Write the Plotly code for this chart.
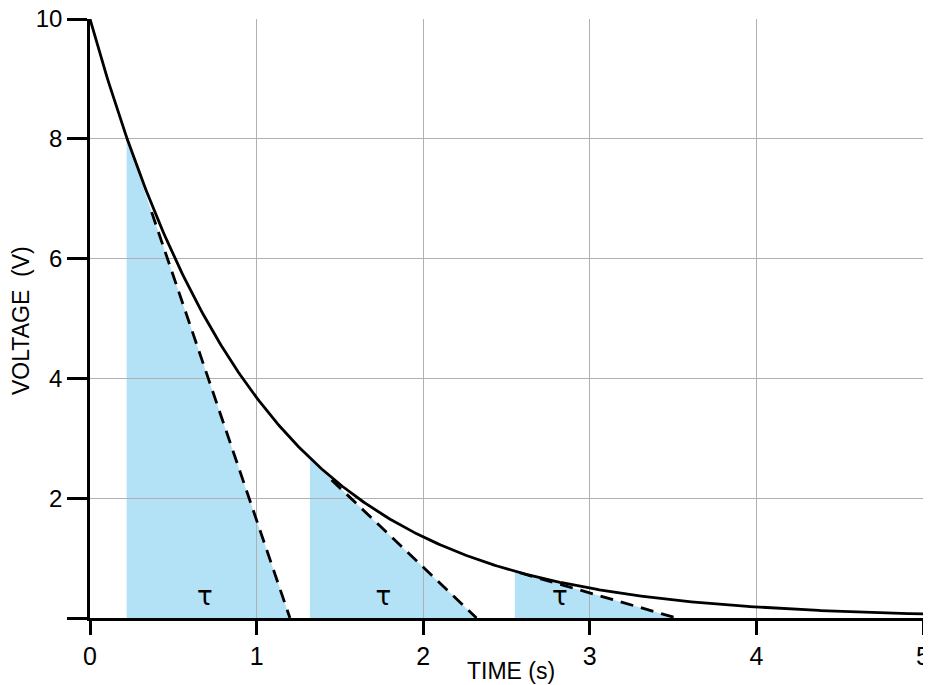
import numpy as np
import plotly.graph_objects as go

# Data
V0 = 10.0          # initial voltage (V)
tau = 1.0          # time constant (s)
t_curve = np.linspace(0, 5, 400)
v_curve = V0 * np.exp(-t_curve / tau)

# tangent triangles: start time, start voltage, intercept time
tri_t0 = [0.22, 1.32, 2.55]
tri_v0 = [8.0, 2.65, 0.78]
tri_t1 = [1.20, 2.32, 3.52]
dash_t_start = [0.37, 1.45, 2.58]   # where dashed tangent begins
tau_label_t = [0.69, 1.76, 2.82]
tau_label_v = [0.32, 0.32, 0.32]

x_ticks = [0, 1, 2, 3, 4, 5]
y_ticks = [0, 2, 4, 6, 8, 10]
y_ticktext = ["", "2", "4", "6", "8", "10"]

FONT = "Liberation Sans"
fig = go.Figure()

shapes = []
for t0, v0, t1 in zip(tri_t0, tri_v0, tri_t1):
    shapes.append(dict(type="path", xref="x", yref="y", layer="below",
                       path=f"M {t0},0 L {t0},{v0} L {t1},0 Z",
                       fillcolor="#b3e1f6", line=dict(width=0)))

# dashed tangents
for t0, v0, t1, ts in zip(tri_t0, tri_v0, tri_t1, dash_t_start):
    slope = -v0 / (t1 - t0)
    vs = v0 + slope * (ts - t0)
    fig.add_trace(go.Scatter(x=[ts, t1], y=[vs, 0], mode="lines",
                             line=dict(color="black", width=2.8, dash="13px,8px"),
                             hoverinfo="skip", showlegend=False))

fig.add_trace(go.Scatter(x=t_curve, y=v_curve, mode="lines",
                         line=dict(color="black", width=2.8),
                         showlegend=False, cliponaxis=False))

fig.add_trace(go.Scatter(x=tau_label_t, y=tau_label_v, mode="text",
                         text=["τ"] * 3, textfont=dict(size=26, color="black", family="DejaVu Sans"),
                         showlegend=False, hoverinfo="skip"))

# page has an 8px body margin: figure is placed at (8, 8)
fig.update_layout(
    width=923, height=677,
    margin=dict(l=82, r=8, t=11, b=67, autoexpand=False),
    paper_bgcolor="white", plot_bgcolor="white",
    shapes=shapes,
    font=dict(family=FONT, color="black"),
    annotations=[
        dict(text="TIME (s)", xref="paper", yref="paper", x=0.506, y=-0.088,
             xanchor="center", yanchor="middle", showarrow=False,
             font=dict(size=23, family=FONT)),
        dict(text="VOLTAGE  (V)", xref="paper", yref="paper", x=-0.082, y=0.497,
             xanchor="center", yanchor="middle", showarrow=False, textangle=-90,
             font=dict(size=23, family=FONT)),
    ],
)
fig.update_xaxes(range=[0, 5], tickvals=x_ticks, showgrid=True, gridcolor="#b0b0b0",
                 gridwidth=1, showline=True, linecolor="black", linewidth=2.5,
                 ticks="outside", ticklen=14, tickwidth=2.5, tickcolor="black",
                 tickfont=dict(size=25, family=FONT), zeroline=False, fixedrange=True,
                 automargin=False, ticklabeloverflow="allow")
fig.update_yaxes(range=[0, 10], tickvals=y_ticks, ticktext=y_ticktext, showgrid=True,
                 gridcolor="#b0b0b0", gridwidth=1, showline=True, linecolor="black",
                 linewidth=2.5, ticks="outside", ticklen=20, tickwidth=2.5,
                 tickcolor="black", tickfont=dict(size=24, family=FONT),
                 zeroline=False, fixedrange=True, automargin=False,
                 ticklabeloverflow="allow")

fig.write_html("out.html")
